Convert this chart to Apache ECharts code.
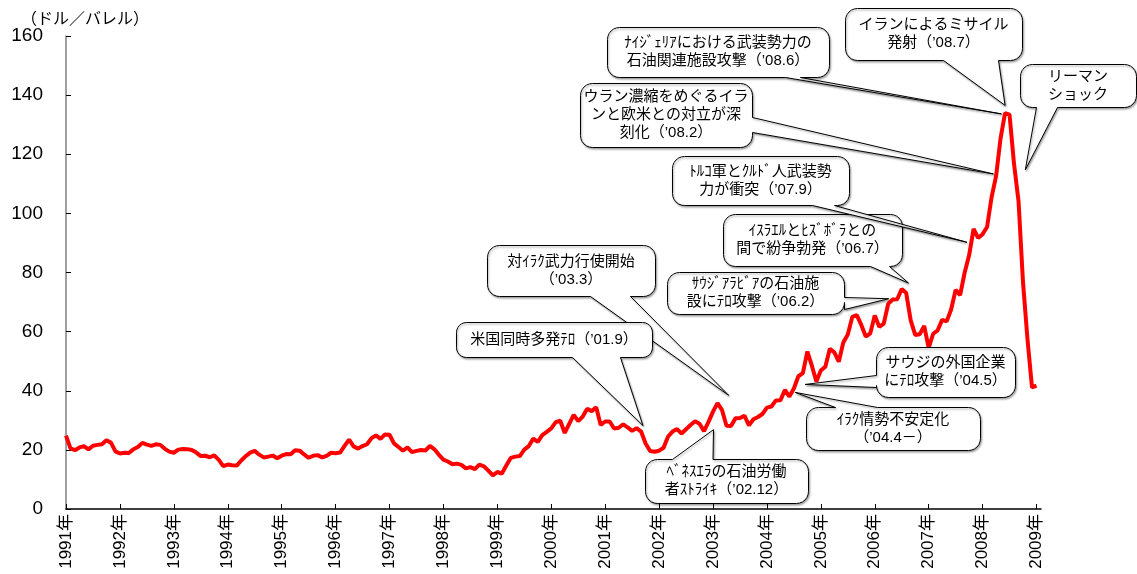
<!DOCTYPE html>
<html>
<head>
<meta charset="utf-8">
<script src="https://cdn.jsdelivr.net/npm/echarts@6/dist/echarts.min.js"></script>
<style>
  html, body { margin: 0; padding: 0; background: #fff; }
  #chart { width: 1137px; height: 574px; }
</style>
</head>
<body>
<div id="chart"></div>
<script>
// WTI crude oil, monthly average spot price (USD per barrel)
const years = [1991, 1992, 1993, 1994, 1995, 1996, 1997, 1998, 1999, 2000,
               2001, 2002, 2003, 2004, 2005, 2006, 2007, 2008, 2009];
const yearLabels = years.map(y => y + '年');

const wti1991 = [24.8, 20.48, 19.90, 20.83, 21.23, 20.19, 21.40, 21.69, 21.89, 23.23, 22.46, 19.50];
const wti1992 = [18.79, 19.01, 18.92, 20.23, 20.98, 22.37, 21.78, 21.34, 21.88, 21.69, 20.34, 19.41];
const wti1993 = [19.03, 20.09, 20.32, 20.25, 19.95, 19.09, 17.89, 18.01, 17.50, 18.15, 16.61, 14.52];
const wti1994 = [15.03, 14.78, 14.68, 16.42, 17.89, 19.06, 19.66, 18.38, 17.45, 17.72, 18.07, 17.16];
const wti1995 = [18.04, 18.57, 18.54, 19.90, 19.74, 18.45, 17.33, 18.02, 18.23, 17.43, 17.99, 19.03];
const wti1996 = [18.85, 19.09, 21.33, 23.50, 21.17, 20.42, 21.30, 21.90, 23.97, 24.88, 23.71, 25.23];
const wti1997 = [25.13, 22.18, 20.97, 19.70, 20.82, 19.26, 19.66, 19.95, 19.80, 21.33, 20.19, 18.33];
const wti1998 = [16.72, 16.06, 15.12, 15.35, 14.91, 13.72, 14.17, 13.47, 15.03, 14.46, 13.00, 11.35];
const wti1999 = [12.52, 12.01, 14.68, 17.31, 17.72, 17.92, 20.10, 21.28, 23.80, 22.69, 25.00, 26.10];
const wti2000 = [27.26, 29.37, 29.84, 25.72, 28.79, 31.82, 29.70, 31.26, 33.88, 33.11, 34.42, 28.44];
const wti2001 = [29.59, 29.61, 27.24, 27.49, 28.63, 27.60, 26.43, 27.37, 26.20, 22.17, 19.64, 19.39];
const wti2002 = [19.72, 20.72, 24.53, 26.18, 27.04, 25.52, 26.97, 28.39, 29.66, 28.84, 26.35, 29.46];
const wti2003 = [32.95, 35.83, 33.51, 28.17, 28.11, 30.66, 30.76, 31.57, 28.31, 30.34, 31.11, 32.13];
const wti2004 = [34.31, 34.69, 36.74, 36.75, 40.28, 38.03, 40.78, 44.90, 45.94, 53.28, 48.47, 43.15];
const wti2005 = [46.84, 48.15, 54.19, 52.98, 49.83, 56.35, 59.00, 64.99, 65.59, 62.26, 58.32, 59.41];
const wti2006 = [65.49, 61.63, 62.69, 69.44, 70.84, 70.95, 74.41, 73.04, 63.80, 58.89, 59.08, 61.96];
const wti2007 = [54.51, 59.28, 60.44, 63.98, 63.46, 67.49, 74.12, 72.36, 79.92, 85.80, 94.77, 91.69];
const wti2008 = [92.97, 95.39, 105.45, 112.58, 125.40, 133.88, 133.37, 116.67, 104.11, 76.61, 57.31, 41.12];
const wti2009 = [41.71];

const prices = [].concat(wti1991, wti1992, wti1993, wti1994, wti1995, wti1996, wti1997,
  wti1998, wti1999, wti2000, wti2001, wti2002, wti2003, wti2004, wti2005, wti2006,
  wti2007, wti2008, wti2009);

// one category per month; the axis runs one month past the last price
const months = [];
years.forEach(y => { for (let m = 1; m <= 12; m++) months.push(y + '/' + m); });
const categories = months.slice(0, prices.length + 1);

// event notes: anchor = [month index from Jan 1991, price]; box = pixel layout
const notes = [
  { lines: ['対ｲﾗｸ武力行使開始', '（’03.3）'], box: [487, 245, 168, 51], side: 'bottom', base: [590, 630], tip: [147.4, 38.6] },
  { lines: ['米国同時多発ﾃﾛ（’01.9）'], box: [456, 322, 196, 35], side: 'bottom', base: [572, 620], tip: [128.3, 28.4] },
  { lines: ['ﾍﾞﾈｽｴﾗの石油労働', '者ｽﾄﾗｲｷ（’02.12）'], box: [645, 459, 163, 44], side: 'top', base: [672, 712.5], tip: [144.0, 27.0] },
  { lines: ['ｲﾗｸ情勢不安定化', '（’04.4－）'], box: [806, 407, 174, 43], side: 'top', base: [835, 877], tip: [162.2, 39.6] },
  { lines: ['サウジの外国企業', 'にﾃﾛ攻撃（’04.5）'], box: [876, 347, 139, 50], side: 'left', base: [375, 387], tip: [164.4, 42.3] },
  { lines: ['ｻｳｼﾞｱﾗﾋﾞｱの石油施', '設にﾃﾛ攻撃（’06.2）'], box: [667, 272, 177, 42], side: 'right', base: [297, 309], tip: [183.0, 71.3] },
  { lines: ['ｲｽﾗｴﾙとﾋｽﾞﾎﾞﾗとの', '間で紛争勃発（’06.7）'], box: [723, 214, 179, 52], side: 'bottom', base: [870, 889], tip: [187.4, 76.6] },
  { lines: ['ﾄﾙｺ軍とｸﾙﾄﾞ人武装勢', '力が衝突（’07.9）'], box: [672, 156, 177, 49], side: 'bottom', base: [812, 834], tip: [200.4, 90.4] },
  { lines: ['ウラン濃縮をめぐるイラ', 'ンと欧米との対立が深', '刻化（’08.2）'], box: [580, 83, 172, 64], side: 'right', base: [117, 132], tip: [206.3, 113.5] },
  { lines: ['ﾅｲｼﾞｪﾘｱにおける武装勢力の', '石油関連施設攻撃（’08.6）'], box: [607, 27, 222, 50], side: 'bottom', base: [785, 800], tip: [208.1, 133.8] },
  { lines: ['イランによるミサイル', '発射（’08.7）'], box: [845, 8, 177, 52], side: 'bottom', base: [943, 998], tip: [208.9, 136.7] },
  { lines: ['リーマン', 'ショック'], box: [1020, 64, 116, 43], side: 'bottom', base: [1036, 1057], tip: [213.4, 114.9] }
];

const FONT = '"Liberation Sans", "Noto Sans CJK JP", sans-serif';
const chart = echarts.init(document.getElementById('chart'), null, { renderer: 'canvas' });

chart.setOption({
  animation: false,
  backgroundColor: '#ffffff',
  grid: { left: 66, right: 96, top: 36, bottom: 65, containLabel: false, outerBoundsMode: 'none' },
  xAxis: {
    type: 'category',
    data: categories,
    boundaryGap: false,
    axisLine: { lineStyle: { color: '#000', width: 1.5 } },
    axisTick: { interval: 11, inside: true, length: 5, lineStyle: { color: '#000', width: 1 } },
    axisLabel: {
      interval: 11, rotate: 90, margin: 5, fontSize: 17, color: '#000', fontFamily: FONT,
      formatter: (v, i) => (i % 12 === 0 ? yearLabels[i / 12] : '')
    },
    splitLine: { show: false }
  },
  yAxis: {
    type: 'value',
    min: 0, max: 160, interval: 20,
    axisLine: { show: true, lineStyle: { color: '#808080', width: 1.5 } },
    axisTick: { show: true, inside: true, length: 5, lineStyle: { color: '#000', width: 1 } },
    axisLabel: { margin: 23, fontSize: 19, color: '#000', fontFamily: FONT },
    splitLine: { show: false }
  },
  series: [{
    type: 'line',
    data: prices,
    showSymbol: false,
    symbol: 'none',
    lineStyle: { color: '#ff0000', width: 4 },
    itemStyle: { color: '#ff0000' },
    z: 2
  }]
});

// pixel position of a (fractional) month index and price
function toPx(m, v) {
  const a = chart.convertToPixel({ gridIndex: 0 }, [0, v]);
  const b = chart.convertToPixel({ gridIndex: 0 }, [12, v]);
  return [a[0] + (b[0] - a[0]) * m / 12, a[1]];
}

// rounded box outline with a pointer wedge on one side
function bubble(box, side, base, tip) {
  const [x, y, w, h] = box;
  const r = Math.min(12, h / 3.5);
  const pts = [];
  const arc = (cx, cy, a0, a1) => {
    for (let i = 0; i <= 6; i++) {
      const a = a0 + (a1 - a0) * i / 6;
      pts.push([cx + r * Math.cos(a), cy + r * Math.sin(a)]);
    }
  };
  arc(x + r, y + r, Math.PI, 1.5 * Math.PI);
  if (side === 'top') pts.push([base[0], y], tip, [base[1], y]);
  arc(x + w - r, y + r, 1.5 * Math.PI, 2 * Math.PI);
  if (side === 'right') pts.push([x + w, base[0]], tip, [x + w, base[1]]);
  arc(x + w - r, y + h - r, 0, 0.5 * Math.PI);
  if (side === 'bottom') pts.push([base[1], y + h], tip, [base[0], y + h]);
  arc(x + r, y + h - r, 0.5 * Math.PI, Math.PI);
  if (side === 'left') pts.push([x, base[1]], tip, [x, base[0]]);
  return pts.map(p => [p[0] + 0.5, p[1] + 0.5]);
}

const elements = [{
  type: 'text',
  x: 21, y: 20, z: 50,
  style: {
    text: '（ドル／バレル）', font: '16px ' + FONT, fill: '#000',
    align: 'left', verticalAlign: 'middle', textAlign: 'left', textVerticalAlign: 'middle'
  }
}];

notes.forEach((n, i) => {
  const tip = toPx(n.tip[0], n.tip[1]);
  const [x, y, w, h] = n.box;
  elements.push({
    type: 'polygon',
    z: 100 + i * 2,
    shape: { points: bubble(n.box, n.side, n.base, tip) },
    style: {
      fill: '#ffffff', stroke: '#000000', lineWidth: 1,
      shadowBlur: 2, shadowOffsetX: 1, shadowOffsetY: 1.5, shadowColor: 'rgba(0,0,0,0.35)'
    }
  });
  elements.push({
    type: 'text',
    z: 101 + i * 2,
    x: x + w / 2, y: y + h / 2,
    style: {
      text: n.lines.join('\n'), font: '15px ' + FONT, fill: '#000', lineHeight: 18,
      align: 'center', verticalAlign: 'middle', textAlign: 'center', textVerticalAlign: 'middle'
    }
  });
});

chart.setOption({ graphic: { elements: elements } });
</script>
</body>
</html>
